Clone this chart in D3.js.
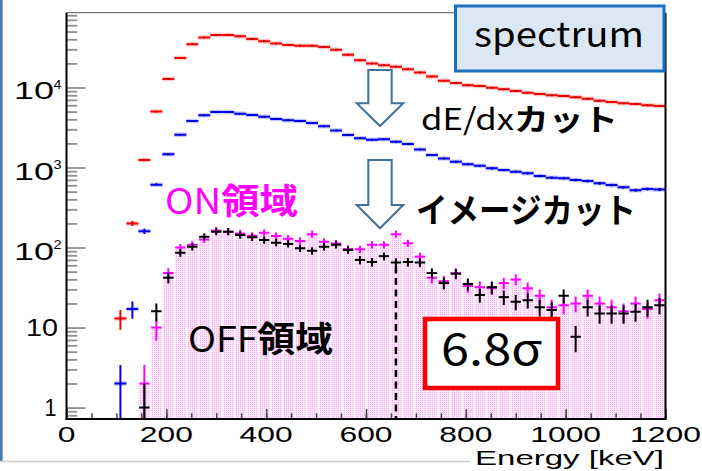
<!DOCTYPE html>
<html>
<head>
<meta charset="utf-8">
<script src="https://cdn.jsdelivr.net/npm/d3@7"></script>
<style>
html, body { margin: 0; padding: 0; background: #fff; }
svg { display: block; }
</style>
</head>
<body>
<svg id="chart" width="702" height="471"></svg>
<script>
// 50 bins of 24 keV between 0 and 1200 keV
const binWidth = 24;

// all events (red)
const allEvents = [0, 0, 0, 0, 13, 200, 1240, 5000, 12800, 23400,
	34700, 42000, 45300, 45300, 43700, 40400, 37800, 35500, 34000, 33300,
	33300, 32000, 29700, 25600, 21900, 20000, 19000, 18200, 16900, 15400,
	13700, 12100, 11400, 10700, 10400, 9950, 9500, 9040, 8610, 8300,
	7990, 7830, 7540, 7250, 6840, 6590, 6340, 6220, 5990, 5870];

// after dE/dx cut (blue)
const dedxCut = [0, 0, 0, 0, 2, 17, 160, 610, 1460, 2570,
	3810, 4490, 4940, 4940, 4710, 4530, 4300, 4050, 3900, 3810,
	3590, 3270, 2910, 2550, 2320, 2230, 2250, 2100, 1960, 1680,
	1430, 1300, 1180, 1100, 1050, 977, 930, 886, 846, 783,
	746, 733, 698, 678, 634, 604, 565, 520, 540, 530];

// image cut, ON region (magenta, filled)
const onRegion = [0, 0, 0, 0, 0, 0, 2, 10, 48, 100,
	108, 126, 163, 158, 150, 140, 153, 139, 129, 121,
	147, 118, 112, 96, 95, 108, 108, 147, 113, 77,
	42, 38, 48, 33, 32, 31, 36, 40, 31, 25,
	18, 19, 20, 25, 20, 18, 16, 20, 17, 22];

// image cut, OFF region (black)
const offRegion = [0, 0, 0, 0, 0, 0, 1, 16, 42, 86,
	102, 136, 158, 158, 143, 134, 124, 115, 111, 98,
	91, 102, 108, 93, 70, 66, 78, 65, 66, 65,
	48, 36, 47, 35, 25.5, 32, 24, 21, 22, 18,
	16.6, 25, 7.7, 18, 15, 15, 15, 15.8, 18, 19];

const xTickValues = [0, 200, 400, 600, 800, 1000, 1200];
const yTickValues = [1, 10, 100, 1000, 10000];
const yTickBase = ["1", "10", "10", "10", "10"];
const yTickExp = ["", "", "2", "3", "4"];
const peakEnergy = 660;

const svg = d3.select('#chart');
const xLeft = 66.5, xRight = 665.5, yTop = 12.7, yBottom = 419;

const x = d3.scaleLinear().domain([0, 1200]).range([xLeft, xRight]);
const y = d3.scaleLog().domain([0.72, 86000]).range([yBottom, yTop]);

const toBins = arr => arr.map((v, i) => ({
	v: v, lo: i * binWidth, hi: (i + 1) * binWidth, c: (i + 0.5) * binWidth
})).filter(d => d.v > 0);

const defs = svg.append('defs');
defs.append('clipPath').attr('id', 'plotClip')
	.append('rect')
	.attr('x', xLeft).attr('y', yTop)
	.attr('width', xRight - xLeft).attr('height', yBottom - yTop);

let pat = defs.append('pattern').attr('id', 'pinkDots')
	.attr('patternUnits', 'userSpaceOnUse').attr('width', 2).attr('height', 2);
pat.append('rect').attr('width', 2).attr('height', 2).attr('fill', '#fde6fc');
pat.append('rect').attr('width', 1).attr('height', 1).attr('fill', '#f5b2f3');

// slide decorations
svg.append('rect').attr('x', 0).attr('y', 0).attr('width', 2.7).attr('height', 462).attr('fill', '#4d78ab');
svg.append('line').attr('x1', 0).attr('x2', 470).attr('y1', 461.5).attr('y2', 461.5)
	.attr('stroke', '#cfcfcf').attr('stroke-width', 1.5);

let plot = svg.append('g').attr('clip-path', 'url(#plotClip)');

// ON region fill
let onBins = toBins(onRegion);
plot.append('g').selectAll('rect')
	.data(onBins)
	.join('rect')
	.attr('x', d => x(d.lo))
	.attr('width', d => x(d.hi) - x(d.lo))
	.attr('y', d => y(d.v))
	.attr('height', d => yBottom - y(d.v))
	.attr('fill', 'url(#pinkDots)');
plot.append('g').selectAll('line')
	.data(onBins)
	.join('line')
	.attr('x1', d => x(d.lo) + 0.5).attr('x2', d => x(d.lo) + 0.5)
	.attr('y1', d => y(d.v)).attr('y2', yBottom)
	.attr('stroke', '#fff').attr('stroke-opacity', 0.9).attr('stroke-width', 1.2);

// error bars, sqrt(N)
function errorBars(arr, color, half, minArm) {
	let data = toBins(arr).map(d => {
		let e = Math.sqrt(d.v);
		let cy = y(d.v);
		let up = y(d.v + e);
		let dn = (d.v - e) > y.domain()[0] ? y(d.v - e) : yBottom;
		return Object.assign(d, {
			cx: x(d.c), cy: cy,
			up: Math.min(up, cy - minArm),
			dn: Math.max(dn, cy + minArm)
		});
	});
	let g = plot.append('g').attr('stroke', color).attr('stroke-width', 2);
	g.selectAll('line.h').data(data).join('line').attr('class', 'h')
		.attr('x1', d => d.cx - half).attr('x2', d => d.cx + half)
		.attr('y1', d => d.cy).attr('y2', d => d.cy);
	g.selectAll('line.v').data(data).join('line').attr('class', 'v')
		.attr('x1', d => d.cx).attr('x2', d => d.cx)
		.attr('y1', d => d.up).attr('y2', d => d.dn);
}

// thick spectrum lines (red / blue)
function spectrum(arr, color, halo, dot) {
	let data = toBins(arr);
	let g = plot.append('g');
	g.selectAll('line.halo').data(data).join('line').attr('class', 'halo')
		.attr('x1', d => x(d.lo)).attr('x2', d => x(d.hi))
		.attr('y1', d => y(d.v)).attr('y2', d => y(d.v))
		.attr('stroke', halo).attr('stroke-opacity', 0.55).attr('stroke-width', 4.5);
	errorBars(arr, color, (x(binWidth) - x(0)) / 2, 0);
	plot.append('g').selectAll('rect').data(data).join('rect')
		.attr('x', d => x(d.c) - 1).attr('y', d => y(d.v) - 1)
		.attr('width', 2).attr('height', 2)
		.attr('fill', dot).attr('opacity', 0.55);
}

errorBars(onRegion, '#ff00ff', 5.2, 3.6);
errorBars(offRegion, '#000', 5.2, 3.6);
spectrum(allEvents, '#ff0000', '#ff9a9a', '#500');
spectrum(dedxCut, '#0000ff', '#9a9aff', '#003');

// 662 keV marker
let peakBin = Math.floor(peakEnergy / binWidth);
svg.append('line')
	.attr('x1', x(peakEnergy)).attr('x2', x(peakEnergy))
	.attr('y1', y(offRegion[peakBin]) + 4).attr('y2', yBottom)
	.attr('stroke', '#000').attr('stroke-width', 2.5).attr('stroke-dasharray', '7,4.5');

// x axis ticks
svg.append('g')
	.attr('transform', 'translate(0,' + yBottom + ')')
	.call(d3.axisBottom(x).tickValues(d3.range(0, 1201, 50)).tickSize(-5.7).tickFormat(''))
	.call(g => g.select('.domain').remove())
	.selectAll('line').attr('stroke', '#444').attr('stroke-width', 1.5);
svg.append('g')
	.attr('transform', 'translate(0,' + yBottom + ')')
	.call(d3.axisBottom(x).tickValues(xTickValues).tickSize(-10).tickFormat(''))
	.call(g => g.select('.domain').remove())
	.selectAll('line').attr('stroke', '#444').attr('stroke-width', 1.5);

// y axis ticks
let yMinor = y.ticks().filter(v => Math.abs(Math.log10(v) - Math.round(Math.log10(v))) > 1e-6);
svg.append('g')
	.attr('transform', 'translate(' + xLeft + ',0)')
	.call(d3.axisLeft(y).tickValues(yMinor).tickSize(-10.7).tickFormat(''))
	.call(g => g.select('.domain').remove())
	.selectAll('line').attr('stroke', '#8f8f8f').attr('stroke-width', 1.8);
svg.append('g')
	.attr('transform', 'translate(' + xLeft + ',0)')
	.call(d3.axisLeft(y).tickValues(yTickValues).tickSize(-19).tickFormat(''))
	.call(g => g.select('.domain').remove())
	.selectAll('line').attr('stroke', '#8f8f8f').attr('stroke-width', 1.8);

// frame
svg.append('line').attr('x1', xLeft).attr('x2', xRight).attr('y1', yTop).attr('y2', yTop)
	.attr('stroke', '#7a7a7a').attr('stroke-width', 1.3);
svg.append('line').attr('x1', xRight).attr('x2', xRight).attr('y1', yTop).attr('y2', yBottom)
	.attr('stroke', '#000').attr('stroke-width', 2);
svg.append('line').attr('x1', xLeft).attr('x2', xLeft).attr('y1', yTop).attr('y2', yBottom + 1)
	.attr('stroke', '#000').attr('stroke-width', 2);
svg.append('line').attr('x1', xLeft - 1).attr('x2', xRight + 1).attr('y1', yBottom).attr('y2', yBottom)
	.attr('stroke', '#000').attr('stroke-width', 2);

// axis labels (ROOT helvetica, stretched horizontally)
const rootFont = "'Liberation Sans', Arial, Helvetica, sans-serif";
svg.append('g').selectAll('text')
	.data(xTickValues)
	.join('text')
	.attr('x', d => x(d))
	.attr('y', 441.8)
	.attr('text-anchor', 'middle')
	.attr('font-family', rootFont)
	.attr('font-size', 22)
	.attr('textLength', d => String(d).length * 17.7)
	.attr('lengthAdjust', 'spacingAndGlyphs')
	.text(d => d);

yTickValues.forEach((v, i) => {
	let ty = y(v);
	if (yTickExp[i]) {
		svg.append('text')
			.attr('x', 54).attr('y', ty + 12)
			.attr('text-anchor', 'end')
			.attr('font-family', rootFont).attr('font-size', 23)
			.attr('textLength', 40).attr('lengthAdjust', 'spacingAndGlyphs')
			.text(yTickBase[i]);
		svg.append('text')
			.attr('x', 53.5).attr('y', ty + 1.5)
			.attr('font-family', rootFont).attr('font-size', 13.5)
			.attr('textLength', 8).attr('lengthAdjust', 'spacingAndGlyphs')
			.text(yTickExp[i]);
	} else {
		svg.append('text')
			.attr('x', yTickBase[i].length > 1 ? 58 : 56.5).attr('y', ty + 8)
			.attr('text-anchor', 'end')
			.attr('font-family', rootFont).attr('font-size', 23)
			.attr('textLength', yTickBase[i].length > 1 ? 32 : 12).attr('lengthAdjust', 'spacingAndGlyphs')
			.text(yTickBase[i]);
	}
});

svg.append('text')
	.attr('x', 664).attr('y', 465)
	.attr('text-anchor', 'end')
	.attr('font-family', rootFont).attr('font-size', 20.5)
	.attr('textLength', 189).attr('lengthAdjust', 'spacingAndGlyphs')
	.text('Energy [keV]');

// slide annotations
const jpFont = "'Noto Sans CJK JP', 'Noto Sans', sans-serif";

function downArrow(top, head, tip) {
	let cx = 380, sw = 11.7, hw = 23.3;
	let pts = [[cx - sw, top], [cx + sw, top], [cx + sw, head], [cx + hw, head],
		[cx, tip], [cx - hw, head], [cx - sw, head]];
	svg.append('path')
		.attr('d', d3.line()(pts) + 'Z')
		.attr('fill', '#fff').attr('stroke', '#41719c').attr('stroke-width', 2)
		.attr('stroke-linejoin', 'miter');
}
downArrow(70, 103.3, 126);
downArrow(160, 205, 228.3);

svg.append('rect')
	.attr('x', 455.5).attr('y', 6).attr('width', 208.5).attr('height', 65)
	.attr('fill', '#dce7f4').attr('stroke', '#1b6fc0').attr('stroke-width', 3);
svg.append('text')
	.attr('x', 474).attr('y', 46.7)
	.attr('font-family', jpFont).attr('font-size', 34)
	.attr('textLength', 170).attr('lengthAdjust', 'spacingAndGlyphs')
	.text('spectrum');

let t1 = svg.append('text')
	.attr('x', 421).attr('y', 130)
	.attr('font-family', jpFont).attr('font-size', 30)
	.attr('textLength', 197).attr('lengthAdjust', 'spacingAndGlyphs');
t1.append('tspan').text('dE/dx');
t1.append('tspan').attr('font-weight', 700).text('カット');

svg.append('text')
	.attr('x', 416).attr('y', 223)
	.attr('font-family', jpFont).attr('font-size', 34).attr('font-weight', 700)
	.attr('textLength', 220).attr('lengthAdjust', 'spacingAndGlyphs')
	.text('イメージカット');

let t2 = svg.append('text')
	.attr('x', 165).attr('y', 214)
	.attr('font-family', jpFont).attr('font-size', 35).attr('fill', '#ff00ff')
	.attr('textLength', 133).attr('lengthAdjust', 'spacingAndGlyphs');
t2.append('tspan').text('ON');
t2.append('tspan').attr('font-weight', 700).text('領域');

let t3 = svg.append('text')
	.attr('x', 188).attr('y', 352)
	.attr('font-family', jpFont).attr('font-size', 35).attr('fill', '#000')
	.attr('textLength', 145).attr('lengthAdjust', 'spacingAndGlyphs');
t3.append('tspan').text('OFF');
t3.append('tspan').attr('font-weight', 700).text('領域');

svg.append('rect')
	.attr('x', 425).attr('y', 319).attr('width', 133).attr('height', 69)
	.attr('fill', '#fff').attr('stroke', '#ff0000').attr('stroke-width', 4.5);
svg.append('text')
	.attr('x', 441).attr('y', 365)
	.attr('font-family', jpFont).attr('font-size', 44)
	.attr('textLength', 101).attr('lengthAdjust', 'spacingAndGlyphs')
	.text('6.8σ');
</script>
</body>
</html>
